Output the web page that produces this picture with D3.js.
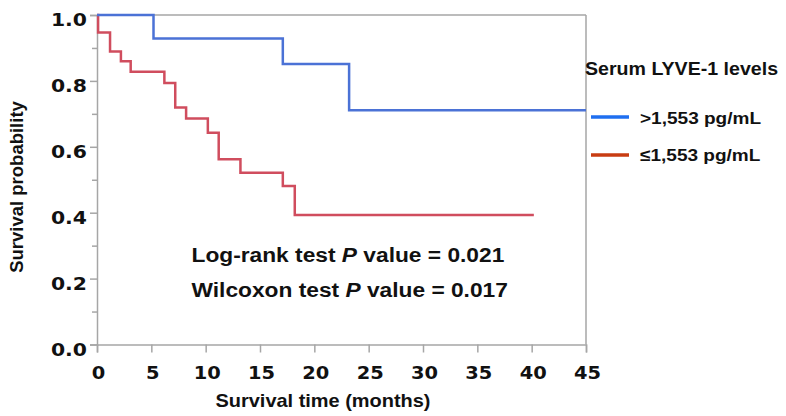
<!DOCTYPE html>
<html><head><meta charset="utf-8">
<script src="https://cdn.jsdelivr.net/npm/d3@7/dist/d3.min.js"></script>
<style>body{margin:0;background:#fff}svg{display:block}</style>
</head><body><svg id="c" width="786" height="416"></svg>
<script>
// Kaplan-Meier step data (time in months, survival probability)
const highTimes = [0, 5.2, 17.1, 23.2, 45];
const highSurv  = [1.0, 0.929, 0.851, 0.711, 0.711];
const lowTimes  = [0, 0.1, 1.2, 2.2, 3.1, 6.2, 7.2, 8.2, 10.2, 11.2, 13.2, 17.1, 18.2, 40.2];
const lowSurv   = [1.0, 0.947, 0.889, 0.860, 0.828, 0.794, 0.719, 0.686, 0.643, 0.562, 0.521, 0.481, 0.393, 0.393];
const xTicks = [0, 5, 10, 15, 20, 25, 30, 35, 40, 45];
const yTicks = [0, 0.2, 0.4, 0.6, 0.8, 1.0];
const yMinor = [0.1, 0.3, 0.5, 0.7, 0.9];
const legendTitle = "Serum LYVE-1 levels";
const legendLabels = [">1,553 pg/mL", "≤1,553 pg/mL"];

const svg = d3.select("#c");
const x = d3.scaleLinear().domain([0, 45]).range([97, 586]);
const y = d3.scaleLinear().domain([0, 1]).range([344.5, 15]);
const axisColor = "#a6a6a6";
const tickFont = "'DejaVu Sans', Verdana, sans-serif";
const labFont = "'Liberation Sans', Arial, sans-serif";

// frame top & right
svg.append("line").attr("x1", x(0)).attr("x2", x(45)).attr("y1", y(1)).attr("y2", y(1)).attr("stroke", axisColor).attr("stroke-width", 1.5);
svg.append("line").attr("x1", x(45)).attr("x2", x(45)).attr("y1", y(1)).attr("y2", y(0)).attr("stroke", axisColor).attr("stroke-width", 1.5);

// axes
const xAxis = svg.append("g").attr("transform", `translate(0,${y(0)})`)
  .call(d3.axisBottom(x).tickValues(xTicks).tickSize(8).tickFormat(d3.format("d")));
xAxis.selectAll(".tick text").attr("y", null).attr("dy", null)
  .attr("transform", "translate(1,34) scale(1.05,1)");
const yAxis = svg.append("g").attr("transform", `translate(${x(0)},0)`)
  .call(d3.axisLeft(y).tickValues(yTicks).tickSize(7).tickFormat(d3.format(".1f")));
yAxis.selectAll(".tick text").attr("x", null).attr("dy", null)
  .attr("transform", "translate(-10,10.5) scale(1.1,1)");
svg.append("g").attr("transform", `translate(${x(0)},0)`)
  .call(d3.axisLeft(y).tickValues(yMinor).tickSize(5).tickFormat(""))
  .call(g => g.select(".domain").remove());
svg.selectAll(".domain, .tick line").attr("stroke", axisColor).attr("stroke-width", 1.5);
svg.selectAll(".tick text").attr("font-family", tickFont).attr("font-weight", "bold").attr("font-size", 18.5).attr("fill", "#111");

// curves
const stepLine = d3.line().x(d => x(d[0])).y(d => y(d[1])).curve(d3.curveStepAfter);
const highData = highTimes.map((t, i) => [t, highSurv[i]]);
const lowData = lowTimes.map((t, i) => [t, lowSurv[i]]);
svg.append("path").datum(lowData).attr("d", stepLine).attr("fill", "none").attr("stroke", "#d04d5e").attr("stroke-width", 2.5);
svg.append("path").datum(highData).attr("d", stepLine).attr("fill", "none").attr("stroke", "#4b72d6").attr("stroke-width", 2.5);

function label(tx, ty, size, anchor, sx, rot) {
  return svg.append("text")
    .attr("transform", `translate(${tx},${ty})${rot ? " rotate(" + rot + ")" : ""} scale(${sx},1)`)
    .attr("text-anchor", anchor).attr("font-family", labFont).attr("font-weight", "bold")
    .attr("font-size", size).attr("fill", "#111");
}

// axis titles
label(323, 407, 19, "middle", 1.05).text("Survival time (months)");
label(23, 187, 18.5, "middle", 1.0, -90).text("Survival probability");

// annotations
const ann = [["Log-rank test ", "P", " value = 0.021", 262], ["Wilcoxon test ", "P", " value = 0.017", 297]];
ann.forEach(a => {
  const t = label(191.5, a[3], 20.5, "start", 1.11);
  t.append("tspan").text(a[0]);
  t.append("tspan").attr("font-style", "italic").text(a[1]);
  t.append("tspan").text(a[2]);
});

// legend
label(585, 75, 17.5, "start", 1.12).text(legendTitle);
const legColors = ["#1f6ff0", "#c83c12"];
const legY = [117, 155];
const legTextY = [124, 161];
legendLabels.forEach((l, i) => {
  svg.append("line").attr("x1", 591).attr("x2", 629).attr("y1", legY[i]).attr("y2", legY[i])
    .attr("stroke", legColors[i]).attr("stroke-width", 3.5);
  label(640, legTextY[i], 17, "start", 1.12).text(l);
});
</script></body></html>
